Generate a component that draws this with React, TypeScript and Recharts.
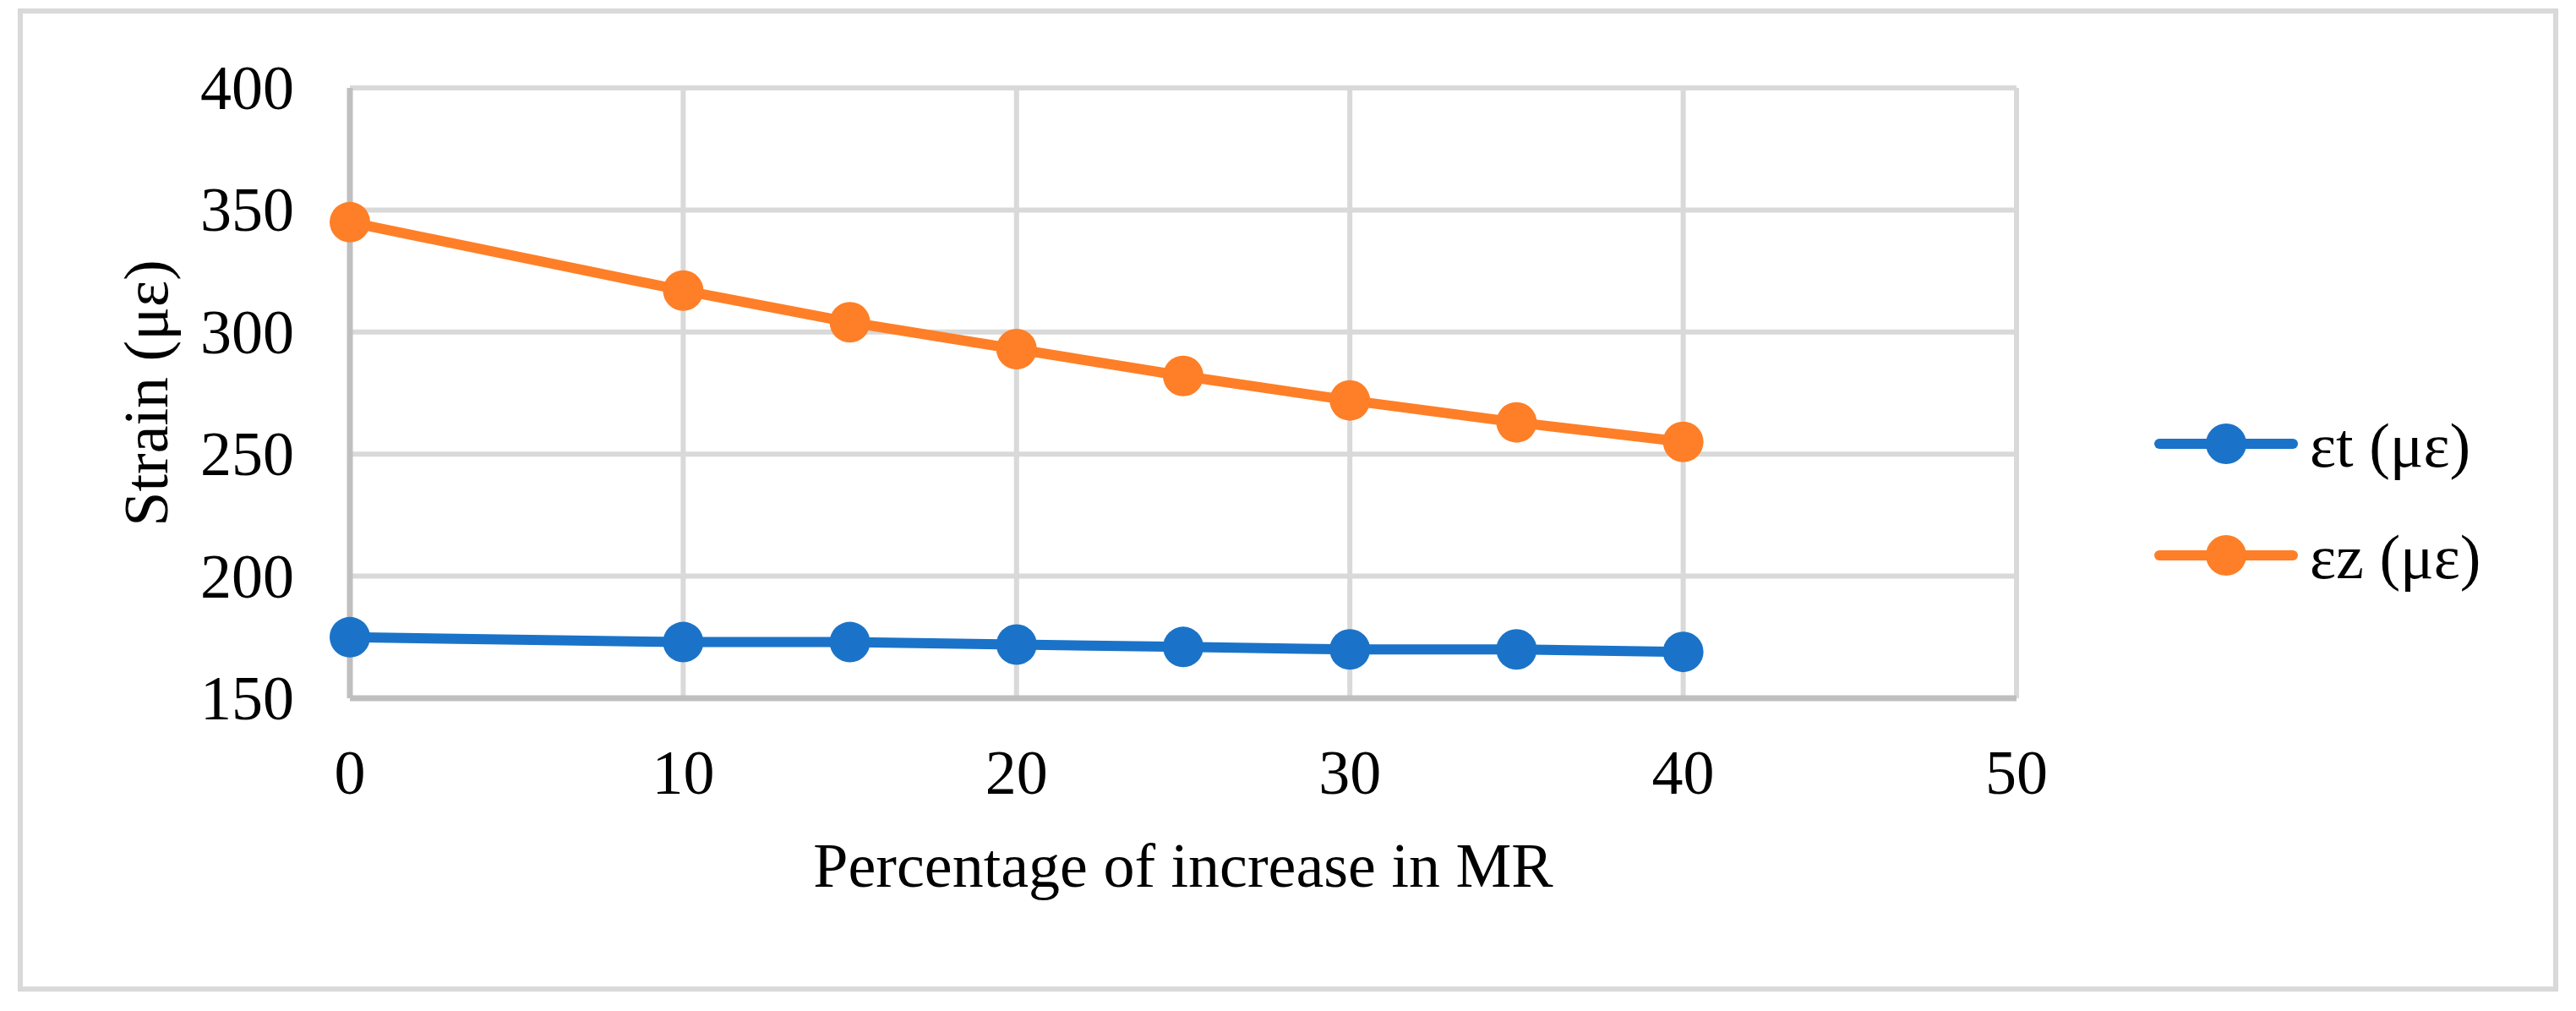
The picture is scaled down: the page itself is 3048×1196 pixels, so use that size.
import React from "react";
import { CartesianGrid, Label, Legend, Line, LineChart, XAxis, YAxis } from "recharts";

const percentIncrease = [0, 10, 15, 20, 25, 30, 35, 40];
const strainT = [175, 173, 173, 172, 171, 170, 170, 169];
const strainZ = [345, 317, 304, 293, 282, 272, 263, 255];
const xTicks = [0, 10, 20, 30, 40, 50];
const yTicks = [150, 200, 250, 300, 350, 400];

const data = percentIncrease.map((p, i) => ({ p, t: strainT[i], z: strainZ[i] }));

const FONT = "'Liberation Serif', 'Times New Roman', serif";
const BLUE = "#1a73c8";
const ORANGE = "#fe7f27";

function XTick({ x, y, payload }: any) {
  return (
    <text x={x} y={y + 113} textAnchor="middle" fontSize={74} fontFamily={FONT} fill="#000">
      {payload.value}
    </text>
  );
}

function YTick({ x, y, payload }: any) {
  return (
    <text x={x - 66} y={y + 25} textAnchor="end" fontSize={74} fontFamily={FONT} fill="#000">
      {payload.value}
    </text>
  );
}

function YTitle({ viewBox }: any) {
  const cx = viewBox.x + 198;
  const cy = viewBox.y + viewBox.height / 2;
  return (
    <text x={cx} y={cy} transform={`rotate(-90 ${cx} ${cy})`} textAnchor="middle" fontSize={74} fontFamily={FONT} fill="#000">
      Strain (με)
    </text>
  );
}

function XTitle({ viewBox }: any) {
  return (
    <text x={viewBox.x + viewBox.width / 2} y={viewBox.y + 223} textAnchor="middle" fontSize={74} fontFamily={FONT} fill="#000">
      Percentage of increase in MR
    </text>
  );
}

function LegendBox({ payload }: any) {
  return (
    <svg width={480} height={264}>
      {(payload ?? []).map((item: any, i: number) => (
        <g key={item.value} transform={`translate(0, ${66 + i * 132})`}>
          <line x1={6} x2={164} y1={0} y2={0} stroke={item.color} strokeWidth={12} strokeLinecap="round" />
          <circle cx={85} cy={0} r={24} fill={item.color} />
          <text x={184} y={27} fontSize={74} fontFamily={FONT} fill="#000">
            {item.value}
          </text>
        </g>
      ))}
    </svg>
  );
}

export default function App() {
  return (
    <div style={{ position: "absolute", left: 0, top: 0, width: 3048, height: 1196, background: "#fff" }}>
      <div
        style={{
          position: "absolute",
          left: 21,
          top: 10,
          width: 3006,
          height: 1163,
          border: "6px solid #d9d9d9",
          boxSizing: "border-box",
        }}
      />
      <LineChart width={3048} height={1196} data={data} margin={{ top: 104, right: 662, bottom: 0, left: 0 }}>
        <CartesianGrid stroke="#d9d9d9" strokeWidth={6} />
        <XAxis
          dataKey="p"
          type="number"
          domain={[0, 50]}
          ticks={xTicks}
          height={370}
          tickSize={0}
          tickMargin={0}
          tickLine={false}
          tick={<XTick />}
          axisLine={{ stroke: "#bfbfbf", strokeWidth: 7 }}
        >
          <Label content={<XTitle />} />
        </XAxis>
        <YAxis
          type="number"
          domain={[150, 400]}
          ticks={yTicks}
          width={414}
          tickSize={0}
          tickMargin={0}
          tickLine={false}
          tick={<YTick />}
          axisLine={{ stroke: "#bfbfbf", strokeWidth: 7 }}
        >
          <Label content={<YTitle />} />
        </YAxis>
        <Legend
          verticalAlign="middle"
          align="center"
          content={<LegendBox />}
          wrapperStyle={{ position: "absolute", left: 2549, top: 459, width: 480, height: 264 }}
        />
        <Line
          dataKey="t"
          name="εt (με)"
          type="linear"
          stroke={BLUE}
          strokeWidth={12}
          strokeLinejoin="round"
          dot={{ r: 24, fill: BLUE, stroke: BLUE, strokeWidth: 0 }}
          activeDot={false}
          isAnimationActive={false}
        />
        <Line
          dataKey="z"
          name="εz (με)"
          type="linear"
          stroke={ORANGE}
          strokeWidth={12}
          strokeLinejoin="round"
          dot={{ r: 24, fill: ORANGE, stroke: ORANGE, strokeWidth: 0 }}
          activeDot={false}
          isAnimationActive={false}
        />
      </LineChart>
    </div>
  );
}
